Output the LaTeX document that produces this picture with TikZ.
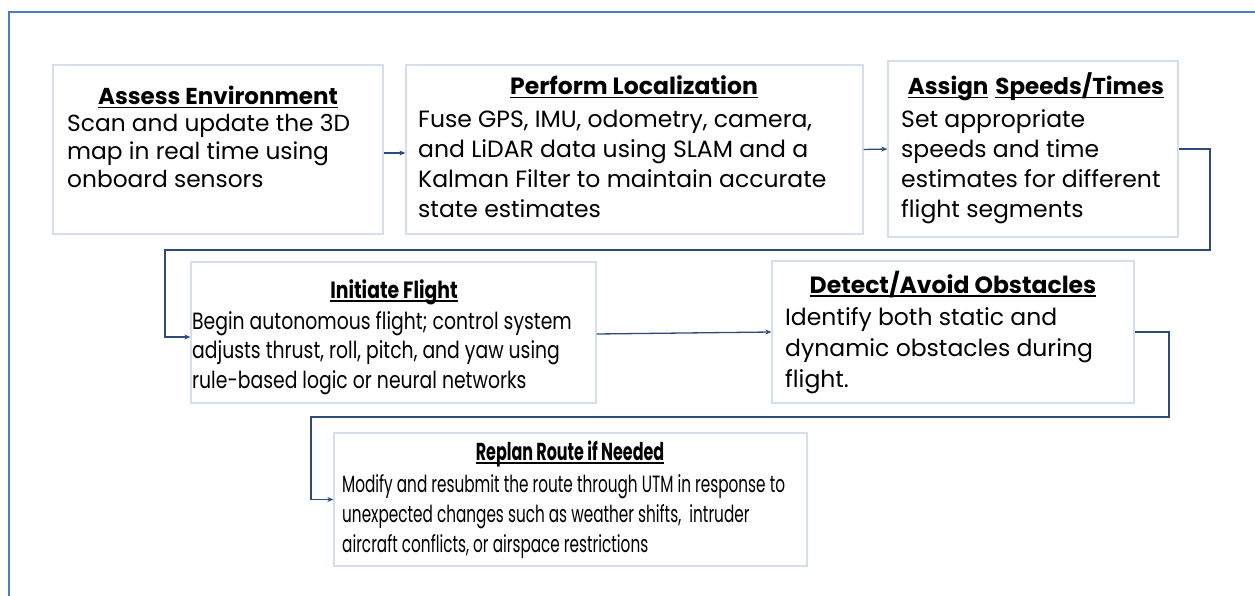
\documentclass[tikz,border=0pt]{standalone}
\usepackage{fontspec}
\setmainfont{Poppins}
\newfontfamily\condA[FakeStretch=0.8]{Poppins}
\newfontfamily\condB[FakeStretch=0.65]{Poppins}
\newcommand\myul[1]{\leavevmode\setbox0\hbox{#1}\rlap{\rule[-3.5pt]{\wd0}{1.5pt}}\box0}
\usetikzlibrary{arrows.meta}
\definecolor{boxline}{HTML}{D5DEEF}
\definecolor{conncol}{HTML}{2E4A7D}
\definecolor{framecol}{HTML}{4A7EC0}
\begin{document}
\begin{tikzpicture}[x=1pt,y=-1pt,
  box/.style={draw=boxline, line width=1.3pt, rectangle, inner sep=0pt},
  ttl/.style={anchor=base, inner sep=0pt, font=\fontsize{23.5}{26}\selectfont\bfseries},
  body/.style={anchor=base west, inner sep=0pt, align=left},
  flow/.style={draw=conncol, line width=1.3pt, -{Stealth[length=6pt,width=5pt]}}]
\useasboundingbox (0,0) rectangle (1255,596);
\fill[white] (0,0) rectangle (1255,596);
\draw[framecol, line width=1.5pt] (9,600) -- (9,12) -- (1260,12);

% boxes
\node[box, minimum width=330pt, minimum height=169pt] (b1) at (218,149.5) {};
\node[box, minimum width=457pt, minimum height=169pt] (b2) at (634.5,149.5) {};
\node[box, minimum width=290pt, minimum height=176pt] (b3) at (1033,149) {};
\node[box, minimum width=405pt, minimum height=141pt] (b4) at (393.5,332.5) {};
\node[box, minimum width=362pt, minimum height=142pt] (b5) at (953,332) {};
\node[box, minimum width=473pt, minimum height=133pt] (b6) at (570.5,499.5) {};

% titles
\node[ttl, font=\fontsize{23}{26}\selectfont\bfseries] (t1) at (218,105) {\myul{Assess Environment}};
\node[ttl] (t2) at (634,95) {\myul{Perform Localization}};
\node[ttl, font=\fontsize{23}{26}\selectfont\bfseries] (t3) at (1036,95) {\myul{Assign}\hspace{0.3em}\myul{Speeds/Times}};
\node[ttl, font=\fontsize{23.5}{26}\selectfont\condA\bfseries] (t4) at (394,298) {\myul{Initiate Flight}};
\node[ttl] (t5) at (953,293) {\myul{Detect/Avoid Obstacles}};
\node[ttl, font=\fontsize{24.5}{26}\selectfont\condB\bfseries] (t6) at (570,460) {\myul{Replan Route if Needed}};

% bodies (anchored at the baseline of their last line)
\node[body, font=\fontsize{23.3}{28}\selectfont] (x1) at (67,188)
  {Scan and update the 3D\\map in real time using\\onboard sensors};
\node[body, font=\fontsize{23.5}{30.3}\selectfont] (x2) at (418,218)
  {Fuse GPS, IMU, odometry, camera,\\and LiDAR data using SLAM and a\\Kalman Filter to maintain accurate\\state estimates};
\node[body, font=\fontsize{23.5}{30.3}\selectfont] (x3) at (901,218)
  {Set appropriate\\speeds and time\\estimates for different\\flight segments};
\node[body, font=\fontsize{23.5}{29.5}\selectfont\condA] (x4) at (192,388)
  {Begin autonomous flight; control system\\adjusts thrust, roll, pitch, and yaw using\\rule-based logic or neural networks};
\node[body, font=\fontsize{23.5}{31}\selectfont] (x5) at (785,387)
  {Identify both static and\\dynamic obstacles during\\flight.};
\node[body, font=\fontsize{23.5}{30}\selectfont\condB] (x6) at (342,552)
  {Modify and resubmit the route through UTM in response to\\unexpected changes such as weather shifts,\ \ intruder\\aircraft conflicts, or airspace restrictions};

% connectors
\coordinate (k1) at (1210,250);
\coordinate (k2) at (165,250);
\coordinate (k3) at (1169,417);
\coordinate (k4) at (311,417);
\draw[flow] ([yshift=-3.5pt]b1.east) -- ([yshift=-3.5pt]b2.west);
\draw[flow] (b2.east) -- (b3.west);
\draw[flow] (b3.east) -| (k1) -- (k2) |- ([yshift=-4.5pt]b4.west);
\draw[flow] ([yshift=-1.5pt]b4.east) -- (b5.west);
\draw[flow] (b5.east) -| (k3) -- (k4) |- (b6.west);
\end{tikzpicture}
\end{document}
